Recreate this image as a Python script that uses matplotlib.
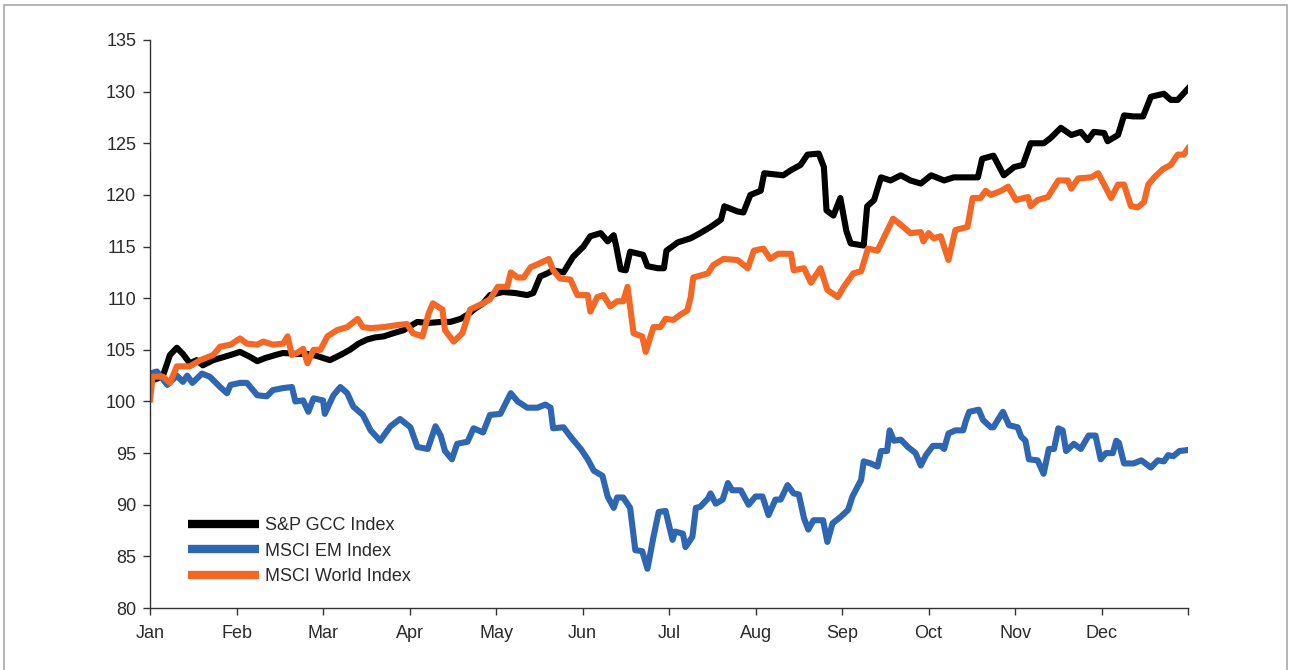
import matplotlib.pyplot as plt
from matplotlib.patches import Rectangle

#--- Data (x in months since Jan 1) ---#

months = ["Jan", "Feb", "Mar", "Apr", "May", "Jun",
          "Jul", "Aug", "Sep", "Oct", "Nov", "Dec"]

# S&P GCC Index
gcc_x = [0.00, 0.08, 0.15, 0.23, 0.31, 0.38, 0.46, 0.54, 0.61, 0.73,
         0.81, 0.93, 1.04, 1.16, 1.24, 1.33, 1.45, 1.54, 1.68, 1.82,
         1.93, 2.08, 2.20, 2.31, 2.41, 2.51, 2.60, 2.70, 2.81, 2.93,
         3.01, 3.09, 3.22, 3.36, 3.47, 3.59, 3.67, 3.76, 3.85, 3.93,
         4.08, 4.22, 4.36, 4.43, 4.51, 4.59, 4.66, 4.78, 4.89, 5.01,
         5.09, 5.21, 5.29, 5.36, 5.39, 5.44, 5.50, 5.55, 5.70, 5.75,
         5.87, 5.94, 5.97, 6.10, 6.25, 6.36, 6.48, 6.60, 6.64, 6.79,
         6.86, 6.94, 7.06, 7.10, 7.32, 7.41, 7.52, 7.60, 7.73, 7.79,
         7.82, 7.90, 7.98, 8.05, 8.10, 8.25, 8.29, 8.37, 8.45, 8.56,
         8.68, 8.79, 8.91, 9.03, 9.18, 9.29, 9.57, 9.62, 9.75, 9.87,
         9.99, 10.09, 10.18, 10.33, 10.41, 10.53, 10.65, 10.76, 10.84, 10.91,
         11.03, 11.07, 11.19, 11.26, 11.37, 11.48, 11.57, 11.72, 11.80, 11.88,
         12.00]
gcc_y = [102.0, 102.2, 102.5, 104.5, 105.2, 104.6, 103.7, 104.0, 103.5, 104.0,
         104.2, 104.5, 104.8, 104.3, 103.9, 104.2, 104.5, 104.7, 104.6, 104.6,
         104.4, 104.0, 104.5, 105.0, 105.6, 106.0, 106.2, 106.3, 106.6, 106.9,
         107.3, 107.7, 107.6, 107.7, 107.7, 108.0, 108.4, 109.0, 109.5, 110.3,
         110.6, 110.5, 110.3, 110.5, 112.1, 112.4, 112.7, 112.5, 114.0, 115.0,
         116.0, 116.3, 115.5, 116.1, 115.0, 112.8, 112.7, 114.5, 114.2, 113.1,
         112.9, 112.9, 114.6, 115.4, 115.8, 116.3, 116.9, 117.6, 118.9, 118.4,
         118.3, 120.0, 120.4, 122.1, 121.9, 122.4, 122.9, 123.9, 124.0, 122.7,
         118.5, 118.0, 119.7, 116.5, 115.3, 115.1, 118.9, 119.5, 121.7, 121.4,
         121.9, 121.4, 121.1, 121.9, 121.4, 121.7, 121.7, 123.5, 123.8, 121.9,
         122.7, 122.9, 125.0, 125.0, 125.5, 126.5, 125.8, 126.1, 125.3, 126.1,
         126.0, 125.2, 125.8, 127.7, 127.6, 127.6, 129.5, 129.8, 129.2, 129.2,
         130.3]

# MSCI EM Index
em_x = [0.00, 0.08, 0.20, 0.31, 0.38, 0.43, 0.49, 0.60, 0.69, 0.81,
        0.89, 0.93, 1.04, 1.12, 1.24, 1.35, 1.42, 1.54, 1.64, 1.68,
        1.77, 1.83, 1.89, 2.00, 2.02, 2.12, 2.20, 2.28, 2.35, 2.46,
        2.55, 2.66, 2.78, 2.89, 3.01, 3.09, 3.21, 3.30, 3.36, 3.41,
        3.49, 3.55, 3.67, 3.74, 3.85, 3.93, 4.05, 4.17, 4.25, 4.36,
        4.48, 4.57, 4.63, 4.66, 4.78, 4.86, 4.98, 5.06, 5.13, 5.23,
        5.29, 5.36, 5.40, 5.47, 5.55, 5.61, 5.69, 5.75, 5.82, 5.88,
        5.96, 6.04, 6.07, 6.16, 6.19, 6.27, 6.31, 6.36, 6.45, 6.48,
        6.54, 6.62, 6.68, 6.73, 6.83, 6.92, 7.00, 7.08, 7.15, 7.23,
        7.29, 7.37, 7.44, 7.50, 7.56, 7.61, 7.67, 7.78, 7.83, 7.89,
        7.98, 8.07, 8.12, 8.22, 8.25, 8.33, 8.41, 8.45, 8.52, 8.55,
        8.60, 8.68, 8.76, 8.85, 8.91, 8.97, 9.05, 9.14, 9.18, 9.23,
        9.31, 9.40, 9.43, 9.47, 9.58, 9.63, 9.72, 9.75, 9.80, 9.86,
        9.93, 10.03, 10.07, 10.12, 10.16, 10.26, 10.33, 10.39, 10.45, 10.50,
        10.55, 10.59, 10.68, 10.76, 10.85, 10.93, 10.99, 11.05, 11.13, 11.17,
        11.20, 11.26, 11.37, 11.46, 11.57, 11.65, 11.72, 11.77, 11.83, 11.90,
        12.00]
em_y = [102.7, 102.9, 101.6, 102.5, 101.9, 102.5, 101.8, 102.7, 102.4, 101.4,
        100.8, 101.6, 101.8, 101.8, 100.6, 100.5, 101.1, 101.3, 101.4, 100.0,
        100.1, 99.0, 100.3, 100.1, 98.8, 100.6, 101.4, 100.8, 99.5, 98.7,
        97.2, 96.2, 97.6, 98.3, 97.5, 95.6, 95.4, 97.6, 96.7, 95.2,
        94.4, 95.9, 96.1, 97.4, 97.0, 98.7, 98.8, 100.8, 100.0, 99.4,
        99.4, 99.7, 99.4, 97.4, 97.5, 96.6, 95.4, 94.4, 93.3, 92.8,
        90.8, 89.7, 90.7, 90.7, 89.7, 85.6, 85.5, 83.8, 86.9, 89.3,
        89.4, 86.6, 87.4, 87.2, 85.9, 86.9, 89.7, 89.8, 90.6, 91.1,
        90.1, 90.5, 92.1, 91.4, 91.4, 90.0, 90.8, 90.8, 89.0, 90.5,
        90.5, 91.9, 91.1, 91.0, 88.7, 87.6, 88.5, 88.5, 86.4, 88.2,
        88.8, 89.5, 90.8, 92.4, 94.2, 94.0, 93.7, 95.2, 95.2, 97.2,
        96.2, 96.3, 95.6, 95.0, 93.8, 94.8, 95.7, 95.7, 95.4, 96.9,
        97.2, 97.2, 98.1, 99.0, 99.2, 98.2, 97.5, 97.5, 98.2, 99.0,
        97.7, 97.5, 96.6, 96.2, 94.4, 94.3, 93.0, 95.4, 95.4, 97.4,
        97.2, 95.2, 95.9, 95.4, 96.7, 96.7, 94.4, 95.0, 95.0, 96.2,
        96.0, 94.0, 94.0, 94.3, 93.6, 94.3, 94.2, 94.8, 94.7, 95.2,
        95.3]

# MSCI World Index
world_x = [0.00, 0.03, 0.15, 0.23, 0.31, 0.46, 0.58, 0.73, 0.81, 0.93,
           1.04, 1.12, 1.24, 1.31, 1.42, 1.54, 1.59, 1.64, 1.70, 1.77,
           1.82, 1.89, 1.97, 2.05, 2.16, 2.28, 2.40, 2.46, 2.55, 2.70,
           2.86, 2.97, 3.04, 3.15, 3.22, 3.27, 3.38, 3.41, 3.51, 3.61,
           3.70, 3.85, 3.93, 4.02, 4.13, 4.17, 4.25, 4.32, 4.40, 4.51,
           4.61, 4.66, 4.74, 4.86, 4.94, 5.06, 5.09, 5.17, 5.24, 5.32,
           5.40, 5.47, 5.52, 5.59, 5.69, 5.73, 5.82, 5.90, 5.96, 6.05,
           6.13, 6.21, 6.25, 6.28, 6.45, 6.51, 6.63, 6.79, 6.91, 6.98,
           7.09, 7.17, 7.26, 7.41, 7.44, 7.56, 7.64, 7.75, 7.83, 7.95,
           8.02, 8.13, 8.22, 8.30, 8.41, 8.48, 8.59, 8.68, 8.79, 8.91,
           8.94, 9.00, 9.06, 9.14, 9.23, 9.31, 9.45, 9.51, 9.60, 9.66,
           9.72, 9.84, 9.92, 10.01, 10.15, 10.18, 10.26, 10.38, 10.50, 10.61,
           10.65, 10.73, 10.88, 10.96, 11.03, 11.11, 11.19, 11.26, 11.34, 11.42,
           11.49, 11.54, 11.61, 11.71, 11.80, 11.88, 11.95, 12.00]
world_y = [100.2, 102.4, 102.4, 101.8, 103.4, 103.4, 104.0, 104.5, 105.3, 105.5,
           106.1, 105.6, 105.5, 105.8, 105.5, 105.6, 106.3, 104.5, 104.7, 105.1,
           103.7, 105.0, 105.0, 106.3, 106.9, 107.2, 108.0, 107.2, 107.1, 107.2,
           107.4, 107.5, 106.6, 106.3, 108.5, 109.5, 108.9, 106.9, 105.8, 106.6,
           108.9, 109.5, 109.9, 111.1, 111.1, 112.5, 112.0, 112.0, 113.0, 113.4,
           113.8, 112.7, 111.9, 111.8, 110.3, 110.3, 108.7, 110.1, 110.3, 109.2,
           109.7, 109.7, 111.1, 106.6, 106.3, 104.8, 107.2, 107.2, 108.0, 107.9,
           108.4, 108.8, 110.1, 112.0, 112.4, 113.2, 113.8, 113.7, 112.9, 114.6,
           114.8, 113.8, 114.3, 114.3, 112.7, 112.9, 111.5, 112.9, 110.8, 110.1,
           111.1, 112.4, 112.6, 114.8, 114.6, 115.8, 117.7, 117.1, 116.3, 116.4,
           115.5, 116.3, 115.8, 116.0, 113.7, 116.6, 116.9, 119.7, 119.7, 120.4,
           120.0, 120.4, 120.8, 119.5, 119.8, 118.9, 119.5, 119.8, 121.4, 121.4,
           120.6, 121.6, 121.7, 122.1, 121.0, 119.7, 121.0, 121.0, 118.9, 118.8,
           119.3, 121.0, 121.7, 122.5, 122.9, 123.9, 123.9, 124.5]

#--- Plot ---#

plt.rcParams['font.family'] = ['Liberation Sans', 'DejaVu Sans']

fig = plt.figure(figsize=(12.89, 6.70), dpi=100)
ax = fig.add_axes([0.1164, 0.0925, 0.8053, 0.8478])

lw = 4.4
ax.plot(gcc_x, gcc_y, color="#000000", lw=lw, solid_joinstyle="round", label="S&P GCC Index")
ax.plot(em_x, em_y, color="#2e66b1", lw=lw, solid_joinstyle="round", label="MSCI EM Index")
ax.plot(world_x, world_y, color="#f26824", lw=lw, solid_joinstyle="round", label="MSCI World Index")

ax.set_xlim(0, 12)
ax.set_ylim(80, 135)
ax.set_xticks(range(13))
ax.set_xticklabels(months + [""])
ax.set_yticks(range(80, 136, 5))

for side in ["top", "right"]:
    ax.spines[side].set_visible(False)
for side in ["left", "bottom"]:
    ax.spines[side].set_color("#333333")
    ax.spines[side].set_linewidth(1.0)
ax.tick_params(axis="both", direction="out", length=5, width=1, color="#333333",
               labelcolor="#2a2a2a", labelsize=13)
ax.tick_params(axis="x", pad=7)
ax.tick_params(axis="y", pad=5)

leg = ax.legend(loc="lower left", bbox_to_anchor=(0.03, 0.028), frameon=False,
                fontsize=13, handlelength=3.9, handletextpad=0.35,
                labelspacing=0.46, borderaxespad=0)
for line in leg.get_lines():
    line.set_linewidth(6)
    line.set_solid_capstyle("butt")
for t in leg.get_texts():
    t.set_color("#2a2a2a")

# thin grey frame round the figure
fig.patches.append(Rectangle((4 / 1289, -0.05), 1283 / 1289, 1.05 - 5 / 670,
                             transform=fig.transFigure, fill=False,
                             edgecolor="#a8a8a8", linewidth=1.2))

plt.savefig("out.png", dpi=100)
